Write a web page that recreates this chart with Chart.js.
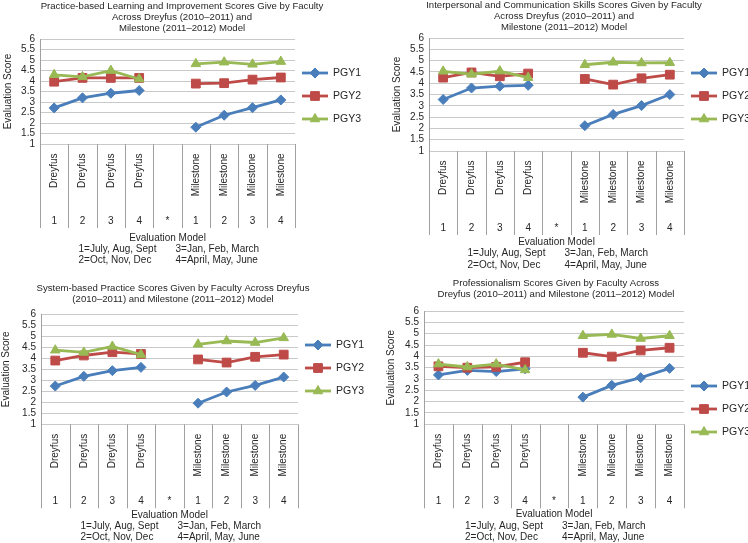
<!DOCTYPE html>
<html><head><meta charset="utf-8">
<script src="https://cdn.jsdelivr.net/npm/chart.js@4/dist/chart.umd.min.js"></script>
<style>
html,body{margin:0;padding:0;background:#fff;}
#wrap{position:relative;width:748px;height:543px;overflow:hidden;background:#fff;}
canvas{position:absolute;}
</style></head><body>
<div id="wrap">
<canvas id="c1"></canvas><canvas id="c2"></canvas><canvas id="c3"></canvas><canvas id="c4"></canvas>
</div>
<script>
// ---- data ----
const categories = ["Dreyfus","Dreyfus","Dreyfus","Dreyfus","","Milestone","Milestone","Milestone","Milestone"];
const quarterLabels = ["1","2","3","4","*","1","2","3","4"];
const seriesNames = ["PGY1","PGY2","PGY3"];
const yTickValues = [1, 1.5, 2, 2.5, 3, 3.5, 4, 4.5, 5, 5.5, 6];
const yTickLabels = ["1","1.5","2","2.5","3","3.5","4","4.5","5","5.5","6"];
const xAxisTitle = "Evaluation Model";
const yAxisTitle = "Evaluation Score";
const footnoteLeft = ["1=July, Aug, Sept", "2=Oct, Nov, Dec"];
const footnoteRight = ["3=Jan, Feb, March", "4=April, May, June"];

const pbliTitle = ["Practice-based Learning and Improvement Scores Give by Faculty","Across Dreyfus (2010\u20132011) and","Milestone (2011\u20132012) Model"];
const pbliPGY1 = [2.72, 3.2, 3.42, 3.55, null, 1.8, 2.37, 2.73, 3.1];
const pbliPGY2 = [3.97, 4.15, 4.15, 4.15, null, 3.88, 3.9, 4.07, 4.17];
const pbliPGY3 = [4.3, 4.2, 4.5, 4.1, null, 4.82, 4.9, 4.8, 4.93];

const icsTitle = ["Interpersonal and Communication Skills Scores Given by Faculty","Across Dreyfus (2010\u20132011) and","Milestone (2011\u20132012) Model"];
const icsPGY1 = [3.28, 3.79, 3.87, 3.91, null, 2.12, 2.62, 3.01, 3.5];
const icsPGY2 = [4.25, 4.48, 4.31, 4.43, null, 4.19, 3.94, 4.22, 4.38];
const icsPGY3 = [4.53, 4.4, 4.54, 4.25, null, 4.82, 4.93, 4.9, 4.91];

const sbpTitle = ["System-based Practice Scores Given by Faculty Across Dreyfus","(2010\u20132011) and Milestone (2011\u20132012) Model"];
const sbpPGY1 = [2.74, 3.18, 3.44, 3.59, null, 1.96, 2.47, 2.77, 3.15];
const sbpPGY2 = [3.9, 4.13, 4.28, 4.2, null, 3.95, 3.81, 4.07, 4.17];
const sbpPGY3 = [4.37, 4.27, 4.54, 4.17, null, 4.64, 4.79, 4.72, 4.93];

const profTitle = ["Professionalism Scores Given by Faculty Across","Dreyfus (2010\u20132011) and Milestone (2011\u20132012) Model"];
const profPGY1 = [3.18, 3.38, 3.33, 3.45, null, 2.2, 2.72, 3.06, 3.47];
const profPGY2 = [3.56, 3.5, 3.54, 3.74, null, 4.16, 3.99, 4.26, 4.38];
const profPGY3 = [3.66, 3.53, 3.66, 3.4, null, 4.91, 4.97, 4.79, 4.91];

// ---- styles ----
const FONT = "'Liberation Sans', Arial, Helvetica, sans-serif";
const TXT = '#262626';
const GRID = '#c9c9c9';
const AXIS = '#a0a0a0';
const seriesStyles = [
  {color:'#4a7ebb', pointStyle:'rectRot', radius:5},
  {color:'#be4b48', pointStyle:'rect', radius:6.2},
  {color:'#98b954', pointStyle:'triangle', radius:5.5}
];

const decor = {
  id: 'decor',
  afterDraw(chart, args, o) {
    const ctx = chart.ctx, ca = chart.chartArea, xs = chart.scales.x;
    ctx.save();
    ctx.strokeStyle = AXIS; ctx.lineWidth = 1;
    for (let i = 0; i <= categories.length; i++) {
      const px = Math.round(xs.getPixelForValue(i - 0.5)) + 0.5;
      ctx.beginPath(); ctx.moveTo(px, ca.bottom); ctx.lineTo(px, ca.bottom + 84); ctx.stroke();
    }
    // footnotes
    const cx = (ca.left + ca.right) / 2;
    ctx.fillStyle = TXT; ctx.font = '10px ' + FONT; ctx.textBaseline = 'middle'; ctx.textAlign = 'left';
    [0,1].forEach(k => {
      const y = ca.bottom + o.footY[k];
      ctx.fillText(footnoteLeft[k], cx - 89, y);
      ctx.fillText(footnoteRight[k], cx + 8, y);
    });
    // legend
    chart.data.datasets.forEach((d, k) => {
      const y = Math.round(ca.top + o.legendTop + k * 23);
      const x0 = ca.right + 7, x1 = ca.right + 33;
      ctx.strokeStyle = d.borderColor; ctx.lineWidth = d.borderWidth;
      ctx.beginPath(); ctx.moveTo(x0, y); ctx.lineTo(x1, y); ctx.stroke();
      ctx.fillStyle = d.borderColor; ctx.strokeStyle = d.borderColor; ctx.lineWidth = 1;
      Chart.helpers.drawPoint(ctx, {pointStyle: d.pointStyle, radius: d.pointRadius, borderWidth: 1, rotation: 0}, (x0 + x1) / 2, y);
      ctx.fillStyle = TXT; ctx.font = '10.5px ' + FONT; ctx.textAlign = 'left'; ctx.textBaseline = 'middle';
      ctx.fillText(d.label, x1 + 5, y);
    });
    ctx.restore();
  }
};

function makeChart(id, cfg) {
  const el = document.getElementById(id);
  el.style.left = cfg.x + 'px'; el.style.top = cfg.y + 'px';
  el.width = cfg.w; el.height = cfg.h;
  el.style.width = cfg.w + 'px'; el.style.height = cfg.h + 'px';
  const f10 = {family: FONT, size: 10};
  const datasets = cfg.series.map((vals, k) => ({
    label: seriesNames[k], data: vals,
    borderColor: seriesStyles[k].color, backgroundColor: seriesStyles[k].color,
    pointBackgroundColor: seriesStyles[k].color, pointBorderColor: seriesStyles[k].color,
    pointStyle: seriesStyles[k].pointStyle, pointRadius: seriesStyles[k].radius, pointBorderWidth: 1,
    borderWidth: 2.8, tension: 0, spanGaps: false, order: 3 - k,
    xAxisID: 'x', yAxisID: 'y'
  }));
  return new Chart(el, {
    type: 'line',
    data: {labels: categories, datasets},
    options: {
      responsive: false, animation: false, devicePixelRatio: 1,
      layout: {padding: {left: cfg.pl, right: cfg.pr, top: 0, bottom: cfg.pb}},
      plugins: {
        legend: {display: false}, tooltip: {enabled: false},
        title: {display: true, text: cfg.title, color: TXT,
          font: {family: FONT, size: 9.6, weight: 'normal', lineHeight: 1.15},
          padding: {top: cfg.tpt, bottom: cfg.tpb}},
        decor: {legendTop: cfg.legendTop, footY: cfg.footY}
      },
      scales: {
        x: {type: 'category', axis: 'x', position: 'bottom', offset: true,
          grid: {display: false, drawTicks: false}, border: {display: false},
          ticks: {minRotation: 90, maxRotation: 90, autoSkip: false, padding: 9.5, font: f10, color: TXT},
          afterFit: s => { s.height = 64; }},
        x2: {type: 'category', axis: 'x', position: 'bottom', offset: true, labels: quarterLabels,
          grid: {display: false, drawTicks: false}, border: {display: false},
          ticks: {maxRotation: 0, minRotation: 0, autoSkip: false, padding: 7, font: f10, color: TXT},
          title: {display: true, text: xAxisTitle, font: f10, color: TXT, padding: {top: 0, bottom: cfg.xtb}},
          afterFit: s => { s.height = 40; }},
        y: {type: 'linear', axis: 'y', position: 'left', min: yTickValues[0], max: yTickValues[yTickValues.length - 1],
          afterBuildTicks: s => { s.ticks = yTickValues.map(v => ({value: v})); },
          ticks: {padding: 5, font: f10, color: TXT, autoSkip: false,
            callback: (v, i) => yTickLabels[i]},
          grid: {color: GRID, drawTicks: false, lineWidth: 1},
          border: {color: AXIS},
          title: {display: true, text: yAxisTitle, font: f10, color: TXT, padding: {top: cfg.ytp, bottom: 0}},
          afterFit: s => { s.width = cfg.yW; }},
        yRight: {type: 'linear', axis: 'y', position: 'right', display: true,
          grid: {display: false}, border: {display: false}, ticks: {display: false},
          afterFit: s => { s.width = cfg.rW; }}
      }
    },
    plugins: [decor]
  });
}

makeChart('c1', {x: 0, y: 0, w: 374, h: 268, pl: 0, pr: 10, pb: 20, yW: 40, rW: 69, tpt: 0.5, tpb: 5.5, ytp: 2, legendTop: 34,
  xtb: 4, footY: [105, 116], title: pbliTitle, series: [pbliPGY1, pbliPGY2, pbliPGY3]});
makeChart('c2', {x: 374, y: 0, w: 374, h: 271, pl: 6, pr: 0, pb: 16, yW: 49, rW: 64, tpt: 0, tpb: 5, ytp: 11.5, legendTop: 35,
  xtb: 7, footY: [102.5, 114], title: icsTitle, series: [icsPGY1, icsPGY2, icsPGY3]});
makeChart('c3', {x: 0, y: 271, w: 374, h: 272, pl: 0, pr: 28, pb: 14.7, yW: 41, rW: 48, tpt: 11.5, tpb: 9.8, ytp: 0, legendTop: 31,
  xtb: 7, footY: [102, 113], title: sbpTitle, series: [sbpPGY1, sbpPGY2, sbpPGY3]});
makeChart('c4', {x: 374, y: 271, w: 374, h: 272, pl: 0, pr: 10, pb: 14.7, yW: 50, rW: 54, tpt: 6.5, tpb: 11.5, ytp: 11, legendTop: 75,
  xtb: 8, footY: [101.5, 113], title: profTitle, series: [profPGY1, profPGY2, profPGY3]});
</script>
</body></html>
